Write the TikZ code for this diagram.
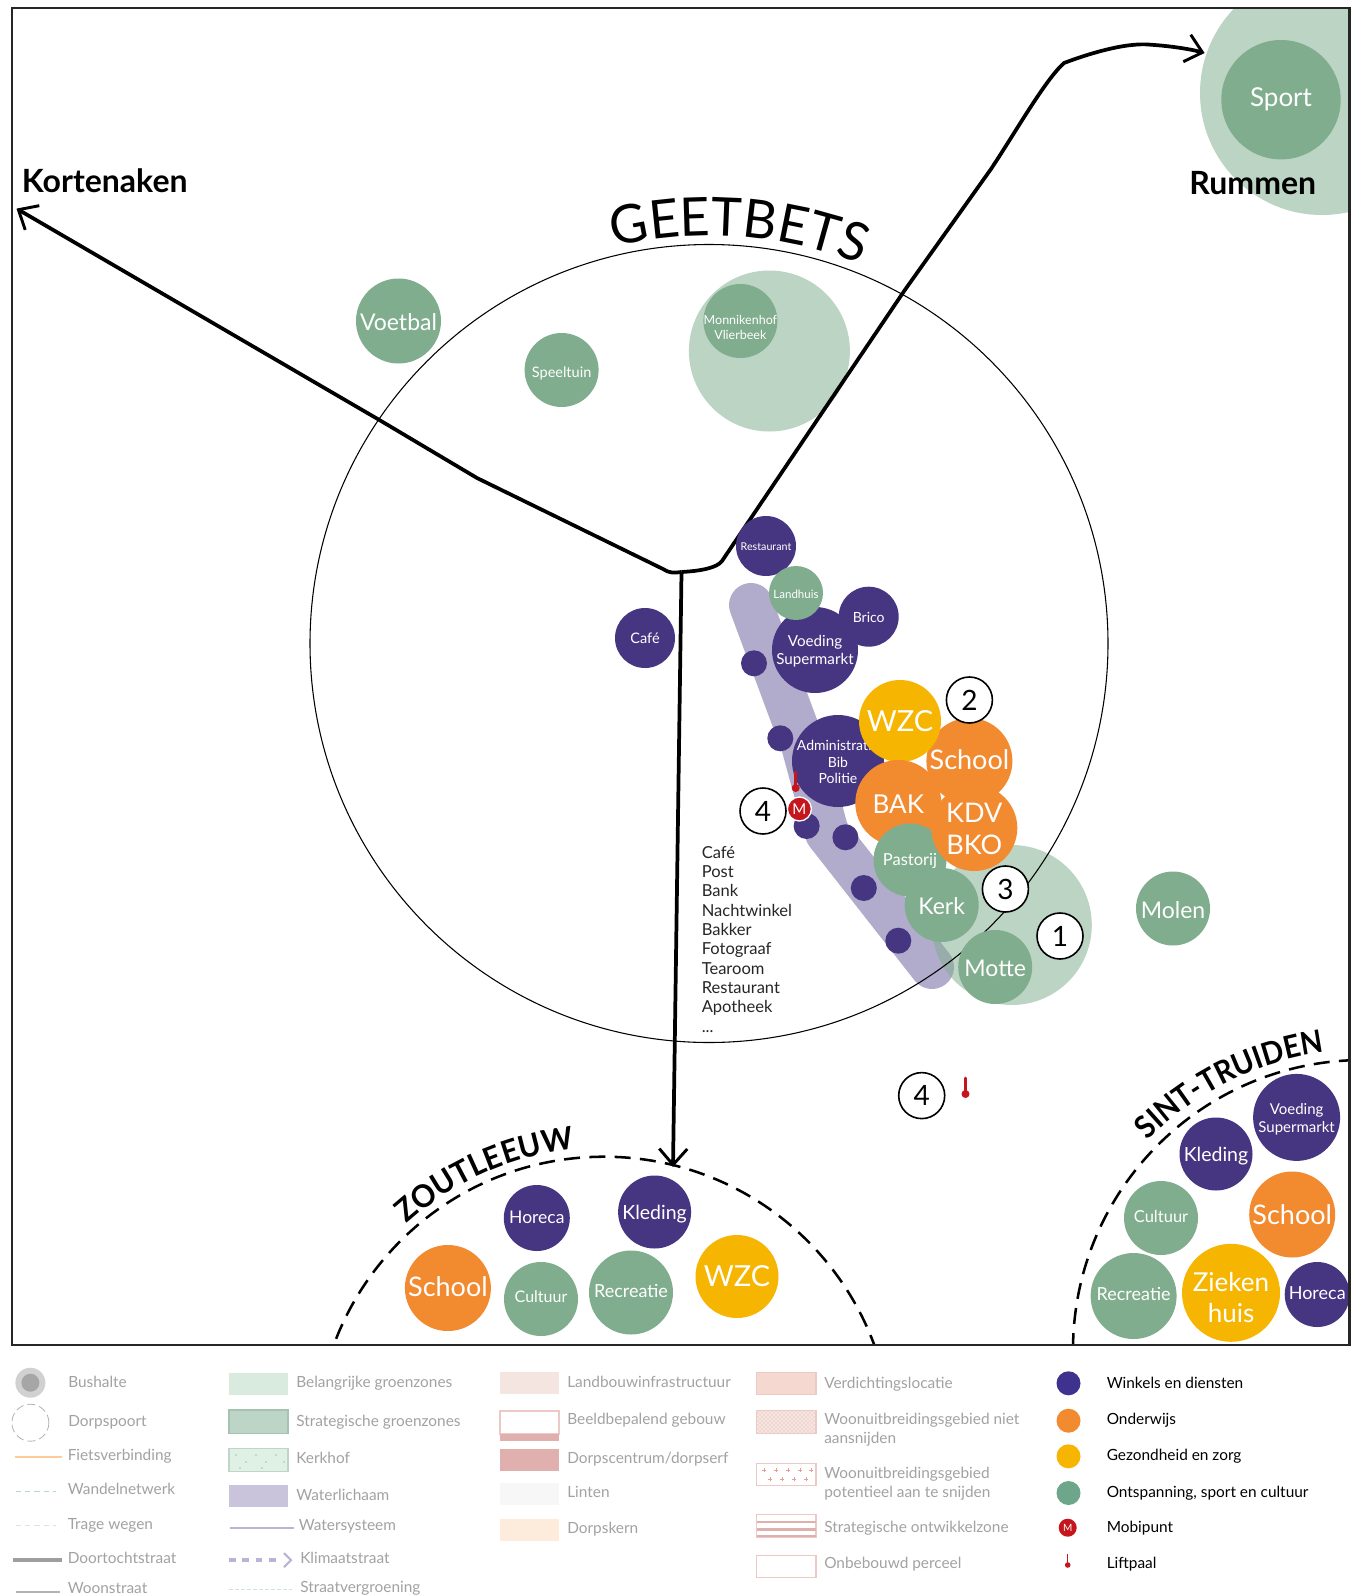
\documentclass[tikz,border=0pt]{standalone}
\usepackage{fontspec}
\setmainfont{Lato}
\usetikzlibrary{arrows.meta,decorations.text,patterns}
\definecolor{cpurple}{HTML}{463681}
\definecolor{corange}{HTML}{F28A30}
\definecolor{cyellow}{HTML}{F6B500}
\definecolor{cgreen}{HTML}{80AD8D}
\definecolor{cwater}{HTML}{B1ABCC}
\definecolor{cred}{HTML}{C4161C}
\definecolor{cleg}{HTML}{A2A2A2}
\definecolor{crose}{HTML}{EDC9C5}
\definecolor{lgA}{HTML}{D9EADF}
\definecolor{lgB}{HTML}{BDD5C7}
\definecolor{lgBe}{HTML}{A5C2B3}
\definecolor{lgC}{HTML}{DFF0E4}
\definecolor{lgCe}{HTML}{BFD5C9}
\definecolor{lgW}{HTML}{C9C4DC}
\definecolor{lgWl}{HTML}{B9B4D6}
\definecolor{lgS}{HTML}{CDE5D8}
\definecolor{lrA}{HTML}{F4E5E1}
\definecolor{lrB}{HTML}{DFB0AE}
\definecolor{lrK}{HTML}{FDEBDC}
\definecolor{lrV}{HTML}{F5D8D0}
\definecolor{lrP}{HTML}{E0A096}
\definecolor{lrH}{HTML}{E8ADA5}
\newcommand{\fpx}[1]{\pgfmathsetmacro\tmpfs{#1*0.75}\pgfmathsetmacro\tmpls{#1*0.75*1.17}\fontsize{\tmpfs}{\tmpls}\selectfont}
% [text shift], name, x, y, radius, colour, font px, text
\newcommand{\blob}[8][0]{%
  \node[blobdisc,fill=#6,minimum size={#5*1.5pt}] (#2) at (#3,#4) {};
  \node[blobtext,font=\fpx{#7},yshift={-(#1+1.2)*0.75*1pt}] (#2t) at (#2) {#8};
}
\newcommand{\smalldot}[3]{\node[blobdisc,fill=cpurple,minimum size=19.5pt] (#1) at (#2,#3) {};}
\newcommand{\numc}[4]{\node[numcirc] (#1) at (#2,#3) {#4};}
\newcommand{\legt}[4]{\node[legtext] (#1) at (#2,#3+5) {#4};}
\newcommand{\legb}[4]{\node[legblack] (#1) at (#2,#3+5) {#4};}
\newcommand{\liftp}[3]{\draw[cred,line width=2pt,line cap=round] (#1,#2) -- (#1,#2+#3); \fill[cred] (#1,#2+#3) circle[radius=4];}
\tikzset{
  blobdisc/.style={circle,inner sep=0pt,draw=none},
  blobtext/.style={text=white,align=center,inner sep=0pt},
  numcirc/.style={circle,draw=black,fill=white,line width=1.2pt,minimum size=34.5pt,inner sep=0pt,font=\fpx{28}},
  halo/.style={fill=cgreen,opacity=0.52},
  road/.style={draw=black,line width=2.8pt,line join=round},
  roadtip/.style={-{Straight Barb[length=12pt,width=21pt,line width=2.2pt]}},
  townarc/.style={draw=black,line width=1.9pt,dash pattern=on 12pt off 7pt},
  legtext/.style={anchor=base west,text=cleg,inner sep=0pt,align=left,font=\fpx{15.4}},
  legblack/.style={anchor=base west,text=black,inner sep=0pt,align=left,font=\fpx{15.4}},
  placename/.style={font=\fpx{32}\bfseries,text=black,inner sep=0pt}
}
\begin{document}
\begin{tikzpicture}[x=0.75pt,y=-0.75pt]
\useasboundingbox (0,0) rectangle (1354,1595);
\fill[white] (0,0) rectangle (1354,1595);

% water ribbon and green zones
\begin{scope}
\clip (12,8) rectangle (1349.5,1345);
\draw[cwater,line width=33pt,line cap=round,line join=round] (751,605) -- (803,745) -- (827,833) -- (932,967);
\fill[halo] (1322,93) circle[radius=122];
\fill[halo] (769.4,351) circle[radius=80.5];
\fill[halo] (1011.8,925) circle[radius=80];
\end{scope}

% village circle
\node[circle,draw=black,line width=0.8pt,minimum size=598.5pt,inner sep=0pt] (village) at (709,643.5) {};

% roads
\coordinate (junction) at (681.5,572);
\coordinate (tipK) at (16.5,208.6);
\coordinate (tipR) at (1204.6,53);
\coordinate (tipZ) at (673,1167);
\draw[road,roadtip] (junction) .. controls (673,573) and (669,573) .. (663,569) -- (477,478) -- (379.4,420) -- (tipK);
\draw[road,roadtip] (junction) .. controls (700,571) and (717,568) .. (722,561) -- (904.5,290.5) -- (991,169) .. controls (1015,133) and (1045,80) .. (1064,63) .. controls (1085,55) and (1125,42) .. (1150.6,44.7) .. controls (1170,46) and (1190,49) .. (tipR);
\draw[road,roadtip] (junction) -- (tipZ);

% town arcs
\begin{scope}
\clip (12,8) rectangle (1349.5,1345);
\draw[townarc] (604,1444.7) circle[radius=288];
\draw[townarc] (1363,1350) circle[radius=290];
\end{scope}

% curved names
\newcommand{\gfont}{\fontsize{40}{42}\addfontfeature{FakeStretch=0.975}\selectfont}
\newcommand{\tfont}{\fontsize{23.5}{26}\bfseries\addfontfeature{FakeStretch=0.92}\selectfont}
\newcommand{\zfont}{\fontsize{23.5}{26}\bfseries\addfontfeature{FakeStretch=0.96}\selectfont}
\path[decorate,decoration={text along path,text={|\gfont|GEETBETS}}]
  (709,643.5) ++ (256.5:408) arc[start angle=256.5,end angle=300,radius=408];
\path[decorate,decoration={text along path,text={|\zfont|ZOUTLEEUW}}]
  (605,1444.7) ++ (228:297) arc[start angle=228,end angle=275,radius=297];
\path[decorate,decoration={text along path,text={|\tfont|SINT-TRUIDEN}}]
  (1363,1350) ++ (224.2:300) arc[start angle=224.2,end angle=272,radius=300];

% place names
\node[placename,anchor=base west] (kort) at (21.7,192) {Kortenaken};
\node[placename,anchor=base] (rumm) at (1252.8,194) {Rummen};

% green
\blob{voetbal}{398.5}{321}{42.5}{cgreen}{23}{Voetbal}
\blob[2]{speeltuin}{561.6}{370}{37}{cgreen}{14.5}{Speeltuin}
\blob[5]{monnik}{740.4}{321}{37}{cgreen}{12.5}{Monnikenhof\\Vlierbeek}
\blob[-1.2]{sport}{1281}{99.7}{59.7}{cgreen}{26}{Sport}
\blob{molen}{1173}{908.5}{37}{cgreen}{23}{Molen}

% centre purple
\blob{rest}{766}{546}{30}{cpurple}{10.7}{Restaurant}
\blob{brico}{868.7}{616.7}{30}{cpurple}{14}{Brico}
\blob{voed}{815}{650}{43}{cpurple}{15.2}{Voeding\\Supermarkt}
\blob{land}{796}{593}{27}{cgreen}{11.5}{Landhuis}
\blob[-1]{cafe}{645}{638}{30}{cpurple}{14.5}{Café}
\blob{admin}{838}{761}{46}{cpurple}{14}{Administratie\\Bib\\Politie}
\smalldot{d1}{754}{663.3}
\smalldot{d2}{780.3}{738.3}
\smalldot{d3}{806.6}{826}
\smalldot{d4}{845.4}{837.3}
\smalldot{d5}{863.8}{888}
\smalldot{d6}{898.3}{940.7}

% centre cluster
\blob[-3]{school}{969.4}{761}{43}{corange}{27}{School}
\blob[-1]{wzc}{900}{721}{41}{cyellow}{29}{WZC}
\blob{bak}{898.3}{803}{43}{corange}{26}{BAK}
\blob{past}{910}{860}{36.5}{cgreen}{16.5}{Pastorij}
\blob{kerk}{941.7}{905}{37}{cgreen}{23}{Kerk}
\blob{kdv}{974.3}{828}{43}{corange}{27}{KDV\\BKO}
\blob{motte}{995.2}{967}{37}{cgreen}{23}{Motte}

% mobipunt and liftpaal
\liftp{795.7}{772}{16}
\node[circle,fill=cred,draw=white,line width=1pt,minimum size=18pt,inner sep=0pt,text=white,font=\fpx{15}] (mobi) at (799.4,809) {M};
\liftp{965.5}{1078}{16}

% numbers
\numc{n4a}{763}{811}{4}
\numc{n2}{969.4}{700}{2}
\numc{n3}{1005.4}{889}{3}
\numc{n1}{1060}{936}{1}
\numc{n4b}{921.7}{1095.6}{4}

% list
\node[anchor=north west,inner sep=0pt,align=left,font={\fontsize{12.4}{14.5}\selectfont},text=black!85] (list) at (701.5,846) {Café\\Post\\Bank\\Nachtwinkel\\Bakker\\Fotograaf\\Tearoom\\Restaurant\\Apotheek\\...};

% Zoutleeuw
\blob[-1.5]{zhor}{536.8}{1218}{33}{cpurple}{17.5}{Horeca}
\blob[1]{zkle}{654.6}{1212}{36.5}{cpurple}{19.5}{Kleding}
\blob[-3]{zsch}{447.9}{1288}{43}{corange}{27}{School}
\blob[-3.5]{zcul}{541}{1299}{37}{cgreen}{16}{Cultuur}
\blob[-3]{zrec}{631}{1292.5}{42}{cgreen}{18}{Recreatie}
\blob[-2]{zwzc}{737}{1276.5}{41.5}{cyellow}{29}{WZC}

% Sint-Truiden
\blob[0.5]{svoe}{1296.6}{1117.4}{43.5}{cpurple}{15}{Voeding\\Supermarkt}
\blob[1]{skle}{1216}{1154}{36.5}{cpurple}{19.5}{Kleding}
\blob[-1.2]{ssch}{1292.2}{1214.5}{43}{corange}{27}{School}
\blob[-2.5]{scul}{1161}{1218}{37}{cgreen}{16.5}{Cultuur}
\blob[-3]{srec}{1133.6}{1296}{43}{cgreen}{18}{Recreatie}
\blob[3.5]{szie}{1231}{1292.8}{49}{cyellow}{26}{Zieken\\huis}
\blob[-2.5]{shor}{1317.2}{1294.5}{32.5}{cpurple}{18}{Horeca}

% frame
\draw[black!85,line width=1.9pt] (12,8) rectangle (1349.5,1345);

% legend column 1
\fill[black!18] (30.4,1382.7) circle[radius=15];
\fill[black!35] (30.4,1382.7) circle[radius=9];
\draw[black!30,line width=0.6pt,dash pattern=on 6pt off 3pt] (30.4,1422.7) circle[radius=18.5];
\draw[orange!40,line width=1.3pt] (14.7,1456.7) -- (61.6,1456.7);
\draw[teal!30,line width=0.9pt,dash pattern=on 4pt off 3pt] (15.6,1491.7) -- (55.8,1491.7);
\draw[black!12,line width=0.9pt,dash pattern=on 4pt off 3pt] (15.6,1525.7) -- (55.8,1525.7);
\draw[black!38,line width=2.6pt] (13.4,1560) -- (61.6,1560);
\draw[black!30,line width=1.3pt] (15.6,1591.7) -- (60,1591.7);
\legt{l1}{68}{1382}{Bushalte}
\legt{l2}{68}{1421}{Dorpspoort}
\legt{l3}{67.5}{1455}{Fietsverbinding}
\legt{l4}{67.5}{1489.7}{Wandelnetwerk}
\legt{l5}{67.5}{1524.3}{Trage wegen}
\legt{l6}{67.5}{1558.7}{Doortochtstraat}
\legt{l7}{67.5}{1588.7}{Woonstraat}

% legend column 2
\fill[lgA] (229,1372.7) rectangle (288,1395);
\draw[fill=lgB,draw=lgBe,line width=0.8pt] (229,1410) rectangle (288,1433.3);
\draw[fill=lgC,draw=lgCe,line width=0.8pt] (229,1448.3) rectangle (288,1471.7);
\foreach \px/\py in {236/1455,246/1462,256/1455,266/1462,276/1455,284/1462,240/1468,262/1468}{\fill[cgreen!70] (\px,\py) circle[radius=0.9];}
\fill[lgW] (229,1485) rectangle (288,1506.7);
\draw[lgWl,line width=1.5pt] (230,1527.7) -- (293.8,1527.7);
\draw[lgWl,line width=2.6pt,dash pattern=on 5pt off 5pt] (229,1560) -- (280,1560);
\draw[lgWl,line width=1.6pt] (284,1553) -- (291,1560) -- (284,1567);
\draw[lgS,line width=1.2pt,dash pattern=on 3pt off 1.5pt] (229,1589.3) -- (292,1589.3);
\legt{l8}{296}{1382.7}{Belangrijke groenzones}
\legt{l9}{296}{1421}{Strategische groenzones}
\legt{l10}{296}{1458.3}{Kerkhof}
\legt{l11}{296}{1495}{Waterlichaam}
\legt{l12}{298.5}{1525.3}{Watersysteem}
\legt{l13}{300}{1558.3}{Klimaatstraat}
\legt{l14}{300}{1587.7}{Straatvergroening}

% legend column 3
\fill[lrA] (500,1372) rectangle (559,1394);
\draw[draw=crose,fill=white,line width=0.8pt] (500,1411) rectangle (559,1434);
\fill[lrB] (500,1434) rectangle (559,1441);
\fill[lrB] (500,1449) rectangle (559,1471);
\fill[black!3] (500,1483.3) rectangle (559,1505);
\fill[lrK] (500,1519) rectangle (559,1540.7);
\legt{l15}{567}{1382.7}{Landbouwinfrastructuur}
\legt{l16}{567}{1419.3}{Beeldbepalend gebouw}
\legt{l17}{567}{1458.3}{Dorpscentrum/dorpserf}
\legt{l18}{567}{1492.7}{Linten}
\legt{l19}{567}{1528.7}{Dorpskern}

% legend column 4
\draw[draw=crose,fill=lrV,line width=0.8pt] (756.6,1372.3) rectangle (816,1394.3);
\fill[lrA] (756.6,1410.7) rectangle (816,1433.3);
\draw[draw=crose,pattern=crosshatch dots,pattern color=lrH,line width=0.8pt] (756.6,1410.7) rectangle (816,1433.3);
\draw[draw=crose,fill=white,line width=0.8pt] (756.6,1463.3) rectangle (816,1485.7);
\foreach \px/\py in {764/1470,776/1470,788/1470,800/1470,811/1470,770/1479,782/1479,794/1479,806/1479}{\draw[lrP,line width=0.5pt] (\px-1.6,\py) -- (\px+1.6,\py) (\px,\py-1.6) -- (\px,\py+1.6);}
\draw[draw=crose,fill=white,line width=0.8pt] (756.6,1514.3) rectangle (816,1537.3);
\foreach \py in {1522,1529.5,1536}{\draw[lrB,line width=1.8pt] (756.6,\py) -- (816,\py);}
\draw[draw=crose,fill=white,line width=0.9pt] (756.6,1555.7) rectangle (816,1577.3);
\legt{l20}{824}{1383.3}{Verdichtingslocatie}
\legt{l21}{824}{1419.3}{Woonuitbreidingsgebied niet}
\legt{l21b}{824}{1438}{aansnijden}
\legt{l22}{824}{1473.3}{Woonuitbreidingsgebied}
\legt{l22b}{824}{1492}{potentieel aan te snijden}
\legt{l23}{824}{1527.7}{Strategische ontwikkelzone}
\legt{l24}{824}{1563.3}{Onbebouwd perceel}

% legend column 5
\fill[cpurple!90!blue] (1068.5,1383.3) circle[radius=12];
\fill[corange] (1068.5,1420.7) circle[radius=12];
\fill[cyellow] (1068.5,1456.3) circle[radius=12];
\fill[cgreen!85!teal] (1068.5,1493) circle[radius=12];
\node[circle,fill=cred,minimum size=13.5pt,inner sep=0pt,text=white,font=\fpx{10}] (lm) at (1067.7,1527.7) {M};
\draw[cred,line width=1.1pt] (1067.7,1554) -- (1067.7,1565);
\fill[cred] (1067.7,1565) circle[radius=2.8];
\legb{b1}{1106.5}{1383.3}{Winkels en diensten}
\legb{b2}{1106.5}{1419.3}{Onderwijs}
\legb{b3}{1106.5}{1455.7}{Gezondheid en zorg}
\legb{b4}{1106.5}{1492}{Ontspanning, sport en cultuur}
\legb{b5}{1106.5}{1527.7}{Mobipunt}
\legb{b6}{1106.5}{1563.3}{Liftpaal}
\end{tikzpicture}
\end{document}
